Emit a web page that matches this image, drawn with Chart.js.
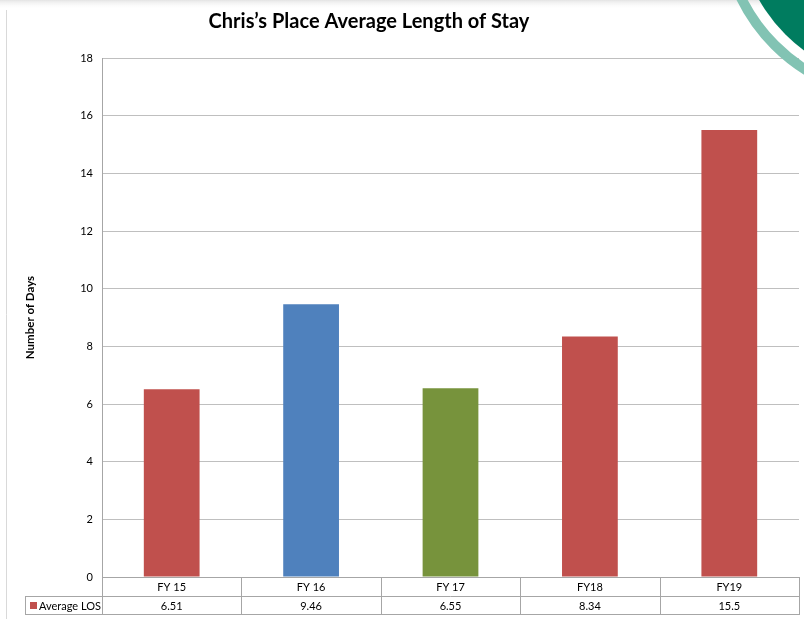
<!DOCTYPE html>
<html>
<head>
<meta charset="utf-8">
<script src="https://cdn.jsdelivr.net/npm/chart.js@4/dist/chart.umd.min.js"></script>
<style>
  html,body{margin:0;padding:0;background:#fff;}
  #wrap{width:804px;height:619px;position:relative;}
</style>
</head>
<body>
<div id="wrap"><canvas id="c" width="804" height="619"></canvas></div>
<script>
const titleText = 'Chris\u2019s Place Average Length of Stay';
const categories = ['FY 15', 'FY 16', 'FY 17', 'FY18', 'FY19'];
const seriesName = 'Average LOS';
const values = [6.51, 9.46, 6.55, 8.34, 15.5];
const valueLabels = ['6.51', '9.46', '6.55', '8.34', '15.5'];
const barColors = ['#C0504D', '#4F81BD', '#77933C', '#C0504D', '#C0504D'];
const yTicks = [0, 2, 4, 6, 8, 10, 12, 14, 16, 18];

const FONT = 'Lato, "Open Sans", sans-serif';
const GRID = '#BFBFBF';

const decor = {
  id: 'decor',
  beforeDraw(chart) {
    const ctx = chart.ctx;
    ctx.save();
    const g = ctx.createLinearGradient(0, 0, 0, 9);
    g.addColorStop(0, '#E4E4E4');
    g.addColorStop(1, 'rgba(255,255,255,0)');
    ctx.fillStyle = g;
    ctx.fillRect(0, 0, 804, 9);
    ctx.strokeStyle = '#D9D9D9';
    ctx.lineWidth = 1;
    ctx.beginPath();
    ctx.moveTo(6.5, 10);
    ctx.lineTo(6.5, 619);
    ctx.stroke();
    ctx.fillStyle = '#000';
    ctx.font = 'bold 20px ' + FONT;
    ctx.textAlign = 'center';
    ctx.textBaseline = 'middle';
    ctx.fillText(titleText, 369, 22);
    ctx.restore();
  },
  afterDraw(chart) {
    const ctx = chart.ctx;
    const x = chart.scales.x;
    const y = chart.scales.y;
    const top = y.bottom;
    const mid = top + 19;
    const bot = mid + 18;
    ctx.save();
    ctx.strokeStyle = '#A6A6A6';
    ctx.lineWidth = 1;
    const n = categories.length;
    const step = (x.right - x.left) / n;
    ctx.beginPath();
    ctx.moveTo(x.left, mid + 0.5); ctx.lineTo(x.right, mid + 0.5);
    ctx.moveTo(25, mid + 0.5); ctx.lineTo(x.left, mid + 0.5);
    ctx.moveTo(25, bot + 0.5); ctx.lineTo(x.right, bot + 0.5);
    ctx.moveTo(25.5, mid); ctx.lineTo(25.5, bot + 1);
    for (let i = 0; i <= n; i++) {
      const px = Math.round(x.left + i * step) + 0.5;
      ctx.moveTo(px, top); ctx.lineTo(px, bot + 1);
    }
    ctx.stroke();
    ctx.fillStyle = barColors[0];
    ctx.fillRect(30, mid + 6, 7, 7);
    ctx.fillStyle = '#000';
    ctx.font = '11px ' + FONT;
    ctx.textBaseline = 'middle';
    ctx.textAlign = 'left';
    ctx.fillText(seriesName, 39, mid + 10);
    ctx.textAlign = 'center';
    for (let i = 0; i < n; i++) {
      ctx.fillText(valueLabels[i], x.getPixelForValue(i), mid + 10);
    }
    ctx.beginPath();
    ctx.arc(900, -80, 162, 0, Math.PI * 2);
    ctx.fillStyle = '#007C5F';
    ctx.fill();
    ctx.beginPath();
    ctx.arc(900, -80, 177, 0, Math.PI * 2);
    ctx.lineWidth = 10;
    ctx.strokeStyle = '#82C3B3';
    ctx.stroke();
    ctx.restore();
  }
};

new Chart(document.getElementById('c'), {
  type: 'bar',
  data: {
    labels: categories,
    datasets: [{
      label: seriesName,
      data: values,
      backgroundColor: barColors,
      borderWidth: 0,
      barPercentage: 0.4,
      categoryPercentage: 1.0
    }]
  },
  options: {
    responsive: false,
    animation: false,
    devicePixelRatio: 1,
    layout: { padding: { left: 0, right: 5, top: 58, bottom: 5 } },
    plugins: {
      legend: { display: false },
      tooltip: { enabled: false },
      title: { display: false }
    },
    scales: {
      x: {
        grid: { display: false, drawTicks: false },
        border: { display: true, color: '#A6A6A6' },
        ticks: { color: '#000', font: { family: FONT, size: 11 }, padding: 4, maxRotation: 0 },
        afterFit(s) { s.height = 37; }
      },
      y: {
        min: 0, max: 18,
        afterBuildTicks(s) { s.ticks = yTicks.map(v => ({ value: v })); },
        grid: { color: GRID, drawTicks: false },
        border: { display: true, color: '#A6A6A6' },
        ticks: { color: '#000', font: { family: FONT, size: 11 }, padding: 9 },
        title: {
          display: true,
          text: 'Number of Days',
          color: '#000',
          font: { family: FONT, size: 11.5, weight: 'bold', lineHeight: 1.2 },
          padding: { top: 23, bottom: 0 }
        },
        afterFit(s) { s.width = 102; }
      }
    }
  },
  plugins: [decor]
});
</script>
</body>
</html>
